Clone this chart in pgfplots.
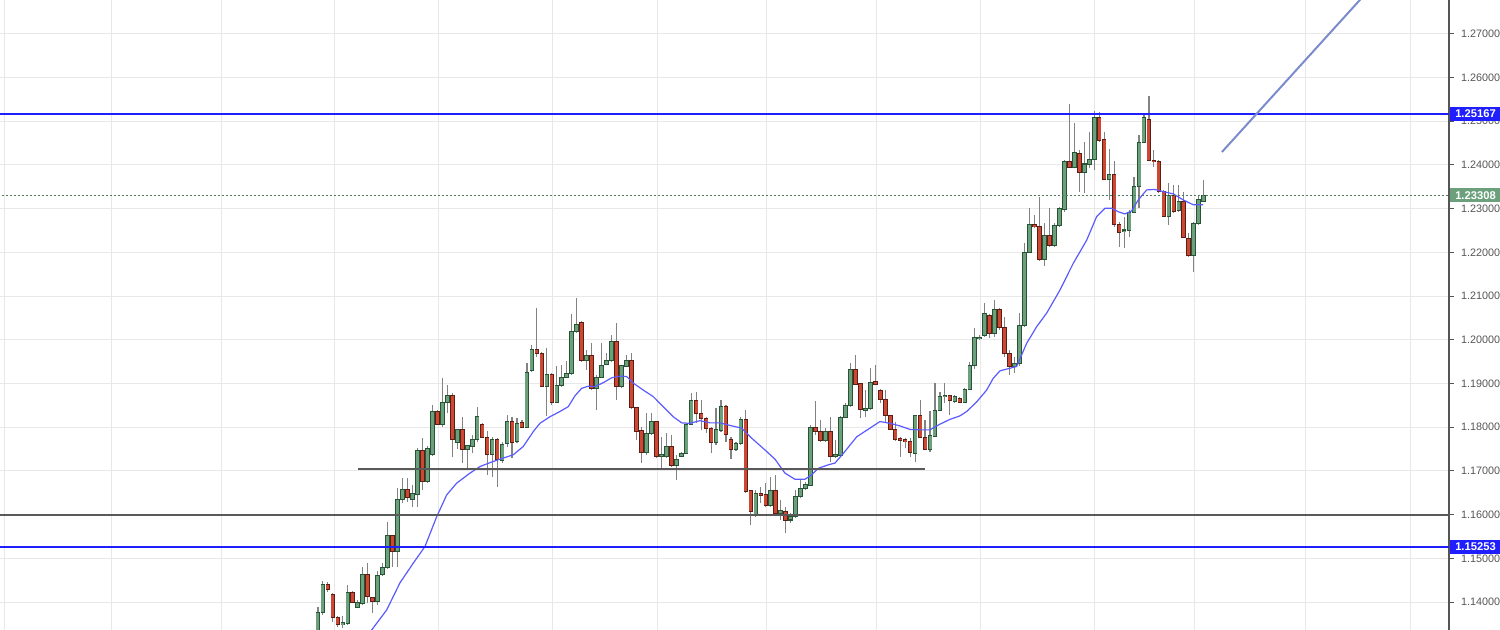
\documentclass[border=0pt]{standalone}
\usepackage{fontspec}
\setmainfont{Liberation Sans}
\usepackage{pgfplots}
\pgfplotsset{compat=1.18}
\usepackage{pgfplotstable}
\definecolor{upfill}{RGB}{108,160,124}
\definecolor{upedge}{RGB}{38,84,52}
\definecolor{dnfill}{RGB}{204,72,50}
\definecolor{dnedge}{RGB}{92,30,20}
\definecolor{wick}{RGB}{130,130,130}
\definecolor{lvlblue}{RGB}{30,30,255}
\definecolor{trend}{RGB}{122,140,204}
\definecolor{maline}{RGB}{90,90,255}
\definecolor{lastgreen}{RGB}{108,160,124}
\definecolor{lbl}{RGB}{85,85,85}

\pgfplotstableread{
i o h l c
0 1.1302 1.1389 1.1290 1.1375
1 1.1376 1.1448 1.1370 1.1441
5 1.1348 1.1367 1.1340 1.1353
6 1.1351 1.1439 1.1348 1.1421
8 1.1389 1.1405 1.1386 1.1399
9 1.1397 1.1481 1.1393 1.1463
12 1.1401 1.1470 1.1393 1.1461
13 1.1463 1.1490 1.1460 1.1480
14 1.1480 1.1584 1.1476 1.1552
16 1.1517 1.1660 1.1481 1.1634
17 1.1634 1.1683 1.1626 1.1658
19 1.1635 1.1668 1.1618 1.1647
20 1.1647 1.1752 1.1618 1.1746
22 1.1677 1.1757 1.1673 1.1752
23 1.1737 1.1851 1.1734 1.1836
25 1.1807 1.1912 1.1801 1.1856
26 1.1856 1.1897 1.1832 1.1872
28 1.1765 1.1795 1.1750 1.1794
30 1.1750 1.1759 1.1702 1.1757
31 1.1757 1.1782 1.1740 1.1772
32 1.1772 1.1846 1.1767 1.1824
35 1.1737 1.1777 1.1687 1.1772
37 1.1725 1.1767 1.1718 1.1761
38 1.1762 1.1828 1.1755 1.1813
40 1.1767 1.1820 1.1763 1.1809
42 1.1800 1.1946 1.1799 1.1925
43 1.1931 1.1988 1.1927 1.1978
46 1.1893 1.1981 1.1826 1.1921
48 1.1857 1.1939 1.1855 1.1895
49 1.1895 1.1942 1.1893 1.1913
50 1.1913 1.1952 1.1912 1.1923
51 1.1923 1.2059 1.1920 1.2019
52 1.2019 1.2095 1.2016 1.2036
54 1.1954 1.1977 1.1931 1.1965
56 1.1888 1.1920 1.1839 1.1913
57 1.1913 1.1992 1.1912 1.1942
58 1.1944 1.1970 1.1942 1.1952
59 1.1952 1.2011 1.1950 1.1996
61 1.1893 1.1942 1.1889 1.1940
62 1.1940 1.1965 1.1937 1.1952
66 1.1743 1.1833 1.1737 1.1786
67 1.1786 1.1833 1.1782 1.1813
69 1.1734 1.1778 1.1702 1.1737
70 1.1734 1.1787 1.1730 1.1756
72 1.1712 1.1737 1.1679 1.1727
73 1.1734 1.1744 1.1733 1.1740
74 1.1740 1.1809 1.1739 1.1807
75 1.1807 1.1878 1.1805 1.1860
80 1.1766 1.1843 1.1759 1.1794
81 1.1794 1.1862 1.1790 1.1847
84 1.1750 1.1767 1.1746 1.1763
85 1.1763 1.1824 1.1759 1.1818
88 1.1599 1.1656 1.1595 1.1649
91 1.1622 1.1687 1.1618 1.1656
93 1.1604 1.1634 1.1588 1.1609
95 1.1588 1.1603 1.1582 1.1595
96 1.1595 1.1656 1.1592 1.1641
97 1.1641 1.1679 1.1637 1.1660
98 1.1660 1.1675 1.1656 1.1668
99 1.1668 1.1805 1.1666 1.1799
102 1.1771 1.1798 1.1766 1.1790
104 1.1733 1.1771 1.1729 1.1738
105 1.1735 1.1826 1.1734 1.1823
106 1.1823 1.1856 1.1820 1.1849
107 1.1849 1.1946 1.1847 1.1931
110 1.1839 1.1885 1.1824 1.1843
111 1.1843 1.1935 1.1839 1.1902
120 1.1741 1.1826 1.1721 1.1826
123 1.1750 1.1836 1.1744 1.1780
124 1.1780 1.1901 1.1777 1.1839
125 1.1839 1.1881 1.1838 1.1870
126 1.1870 1.1901 1.1855 1.1872
128 1.1860 1.1874 1.1855 1.1869
130 1.1858 1.1889 1.1855 1.1887
131 1.1887 1.1950 1.1885 1.1942
132 1.1942 1.2026 1.1933 1.2006
133 1.2004 1.2010 1.1999 1.2006
134 1.2011 1.2084 1.2007 1.2059
136 1.2015 1.2090 1.2007 1.2068
140 1.1939 1.1961 1.1923 1.1946
141 1.1946 1.2061 1.1939 1.2032
142 1.2032 1.2221 1.2030 1.2200
143 1.2200 1.2301 1.2198 1.2264
146 1.2185 1.2267 1.2170 1.2238
148 1.2215 1.2268 1.2213 1.2261
149 1.2261 1.2305 1.2259 1.2301
150 1.2299 1.2411 1.2293 1.2408
152 1.2395 1.2495 1.2392 1.2429
154 1.2382 1.2453 1.2337 1.2402
155 1.2402 1.2476 1.2392 1.2413
156 1.2413 1.2524 1.2389 1.2508
159 1.2367 1.2436 1.2320 1.2377
162 1.2247 1.2282 1.2209 1.2251
163 1.2250 1.2297 1.2236 1.2292
164 1.2292 1.2372 1.2290 1.2350
165 1.2350 1.2469 1.2301 1.2452
166 1.2452 1.2514 1.2450 1.2508
171 1.2283 1.2358 1.2263 1.2329
173 1.2295 1.2354 1.2293 1.2316
176 1.2194 1.2270 1.2156 1.2267
177 1.2267 1.2328 1.2263 1.2320
178 1.2316 1.2366 1.2315 1.2331
}\upT

\pgfplotstableread{
i o h l c
2 1.1441 1.1446 1.1424 1.1428
3 1.1418 1.1421 1.1355 1.1365
4 1.1365 1.1367 1.1342 1.1348
7 1.1421 1.1426 1.1397 1.1399
10 1.1463 1.1490 1.1397 1.1412
11 1.1411 1.1412 1.1376 1.1401
15 1.1552 1.1553 1.1481 1.1517
18 1.1658 1.1683 1.1630 1.1639
21 1.1746 1.1775 1.1656 1.1677
24 1.1836 1.1839 1.1805 1.1807
27 1.1872 1.1878 1.1731 1.1772
29 1.1794 1.1824 1.1718 1.1750
33 1.1807 1.1809 1.1775 1.1777
34 1.1776 1.1792 1.1691 1.1737
36 1.1771 1.1775 1.1664 1.1727
39 1.1813 1.1824 1.1729 1.1766
41 1.1810 1.1817 1.1798 1.1800
44 1.1978 1.2072 1.1961 1.1968
45 1.1968 1.1971 1.1891 1.1893
47 1.1921 1.1923 1.1851 1.1857
53 1.2039 1.2042 1.1950 1.1954
55 1.1965 1.1992 1.1885 1.1888
60 1.1996 1.2038 1.1862 1.1893
63 1.1952 1.1969 1.1841 1.1846
64 1.1846 1.1847 1.1771 1.1791
65 1.1792 1.1801 1.1718 1.1743
68 1.1813 1.1814 1.1730 1.1734
71 1.1756 1.1782 1.1710 1.1712
76 1.1860 1.1881 1.1809 1.1832
77 1.1832 1.1862 1.1794 1.1820
78 1.1820 1.1824 1.1786 1.1798
79 1.1798 1.1801 1.1740 1.1766
82 1.1847 1.1851 1.1767 1.1784
83 1.1771 1.1778 1.1727 1.1750
86 1.1818 1.1839 1.1649 1.1654
87 1.1654 1.1656 1.1576 1.1607
89 1.1649 1.1663 1.1626 1.1645
90 1.1647 1.1672 1.1618 1.1622
92 1.1656 1.1691 1.1603 1.1604
94 1.1607 1.1618 1.1557 1.1588
100 1.1799 1.1861 1.1782 1.1790
101 1.1790 1.1817 1.1767 1.1769
103 1.1790 1.1824 1.1721 1.1733
108 1.1931 1.1965 1.1897 1.1899
109 1.1899 1.1901 1.1820 1.1841
112 1.1904 1.1942 1.1897 1.1898
113 1.1885 1.1887 1.1855 1.1864
114 1.1864 1.1885 1.1809 1.1826
115 1.1826 1.1828 1.1794 1.1796
116 1.1795 1.1813 1.1769 1.1773
117 1.1774 1.1778 1.1733 1.1771
118 1.1771 1.1775 1.1752 1.1767
119 1.1767 1.1775 1.1733 1.1742
121 1.1826 1.1862 1.1775 1.1777
122 1.1777 1.1817 1.1748 1.1750
127 1.1872 1.1874 1.1828 1.1862
129 1.1866 1.1870 1.1855 1.1858
135 1.2056 1.2059 1.2004 1.2015
137 1.2068 1.2072 1.2023 1.2029
138 1.2029 1.2053 1.1961 1.1968
139 1.1968 1.1977 1.1920 1.1939
144 1.2264 1.2286 1.2255 1.2259
145 1.2259 1.2326 1.2181 1.2185
147 1.2238 1.2301 1.2213 1.2215
151 1.2408 1.2540 1.2392 1.2395
153 1.2427 1.2434 1.2339 1.2382
157 1.2508 1.2522 1.2453 1.2457
158 1.2457 1.2476 1.2366 1.2367
160 1.2377 1.2408 1.2259 1.2264
161 1.2264 1.2270 1.2213 1.2247
167 1.2505 1.2558 1.2408 1.2411
168 1.2411 1.2434 1.2396 1.2408
169 1.2408 1.2411 1.2335 1.2339
170 1.2339 1.2343 1.2282 1.2283
172 1.2329 1.2354 1.2290 1.2293
174 1.2316 1.2339 1.2232 1.2235
175 1.2232 1.2244 1.2190 1.2194
}\dnT

\begin{document}
\begin{tikzpicture}
\begin{axis}[
  at={(0,0)}, anchor=south west,
  scale only axis, width=724.5pt, height=315pt,
  xmin=-63.9, xmax=227.3, ymin=1.13361, ymax=1.27775,
  axis y line*=right, axis x line*=bottom,
  x axis line style={draw=none},
  y axis line style={draw=lbl, line width=0.6pt},
  xtick={-62.9,-41.4,-19.3,3.4,24.3,47.2,68.3,90.2,112.3,133.2,156.1,176.2,198.4,219.5},
  xticklabels={}, xtick style={draw=none},
  ytick={1.14,1.15,1.16,1.17,1.18,1.19,1.20,1.21,1.22,1.23,1.24,1.25,1.26,1.27},
  yticklabel={\pgfmathprintnumber[fixed,fixed zerofill,precision=5,assume math mode=true]{\tick}},
  tick align=outside, major tick length=2.5pt,
  ytick style={draw=lbl, line width=0.5pt},
  grid=major, major grid style={draw=black!9, line width=0.5pt},
  yticklabel style={font=\fontsize{5.4}{6}\selectfont, text=lbl},
]
% wicks
\addplot[draw=none, mark=none, error bars/.cd, y dir=plus, y explicit, error mark=none,
  error bar style={draw=wick, line width=0.55pt}]
  table[x=i, y=l, y error expr={\thisrow{h}-\thisrow{l}}] {\upT};
\addplot[draw=none, mark=none, error bars/.cd, y dir=plus, y explicit, error mark=none,
  error bar style={draw=wick, line width=0.55pt}]
  table[x=i, y=l, y error expr={\thisrow{h}-\thisrow{l}}] {\dnT};
% bodies outline
\addplot[draw=none, mark=none, error bars/.cd, y dir=both, y explicit, error mark=none,
  error bar style={draw=upedge, line width=2.3pt}]
  table[x=i, y expr={(\thisrow{o}+\thisrow{c})/2}, y error expr={abs(\thisrow{c}-\thisrow{o})/2+0.00014}] {\upT};
\addplot[draw=none, mark=none, error bars/.cd, y dir=both, y explicit, error mark=none,
  error bar style={draw=dnedge, line width=2.3pt}]
  table[x=i, y expr={(\thisrow{o}+\thisrow{c})/2}, y error expr={abs(\thisrow{c}-\thisrow{o})/2+0.00014}] {\dnT};
% bodies fill
\addplot[draw=none, mark=none, error bars/.cd, y dir=both, y explicit, error mark=none,
  error bar style={draw=upfill, line width=1.5pt}]
  table[x=i, y expr={(\thisrow{o}+\thisrow{c})/2}, y error expr={max(abs(\thisrow{c}-\thisrow{o})/2-0.00009,0)}] {\upT};
\addplot[draw=none, mark=none, error bars/.cd, y dir=both, y explicit, error mark=none,
  error bar style={draw=dnfill, line width=1.5pt}]
  table[x=i, y expr={(\thisrow{o}+\thisrow{c})/2}, y error expr={max(abs(\thisrow{c}-\thisrow{o})/2-0.00009,0)}] {\dnT};
% moving average
\addplot[draw=maline, line width=0.6pt] coordinates {
(8.44,1.1290) (10.79,1.1336) (13.81,1.1382) (16.48,1.1444) (19.15,1.1489) (21.50,1.1527) (23.85,1.1595) (25.86,1.1645) (27.87,1.1672) (30.55,1.1695) (32.56,1.1710) (34.57,1.1719) (36.58,1.1727) (39.25,1.1737) (41.26,1.1756) (43.27,1.1790) (44.61,1.1809) (46.62,1.1824) (48.63,1.1836) (50.30,1.1847) (51.65,1.1872) (52.99,1.1889) (54.32,1.1894) (55.67,1.1893) (57.34,1.1902) (59.02,1.1913) (60.69,1.1917) (62.04,1.1916) (63.36,1.1901) (65.37,1.1885) (67.38,1.1870) (69.39,1.1847) (71.40,1.1824) (73.09,1.1810) (74.76,1.1809) (76.77,1.1815) (78.78,1.1810) (80.79,1.1810) (82.46,1.1805) (85.15,1.1798) (87.16,1.1775) (89.83,1.1748) (91.84,1.1727) (93.85,1.1695) (95.86,1.1681) (97.87,1.1681) (99.22,1.1691) (100.54,1.1706) (102.55,1.1714) (103.90,1.1718) (105.57,1.1740) (108.26,1.1778) (110.93,1.1798) (112.94,1.1813) (114.95,1.1809) (116.96,1.1803) (118.97,1.1795) (120.98,1.1794) (122.99,1.1794) (125.0,1.1807) (127.01,1.1818) (129.02,1.1826) (130.37,1.1836) (132.38,1.1858) (134.38,1.1885) (135.71,1.1912) (137.06,1.1929) (138.06,1.1932) (140.41,1.1939) (142.42,1.1992) (144.43,1.2030) (146.44,1.2061) (149.12,1.2114) (151.79,1.2175) (154.48,1.2228) (156.49,1.2282) (158.16,1.2301) (159.51,1.2301) (160.83,1.2293) (162.18,1.2288) (163.52,1.2295) (164.85,1.2320) (166.54,1.2343) (168.21,1.2344) (169.87,1.2339) (171.88,1.2334) (173.89,1.2320) (175.90,1.2309) (177.91,1.2309)};
% level lines
\addplot[draw=lvlblue, line width=0.7pt] coordinates {(-70,1.25167) (230,1.25167)};
\addplot[draw=lvlblue, line width=0.7pt] coordinates {(-70,1.15258) (230,1.15258)};
\addplot[draw=black!65, line width=0.9pt] coordinates {(-70,1.16) (230,1.16)};
\addplot[draw=black!65, line width=0.9pt] coordinates {(8.04,1.1704) (121.98,1.1704)};
\addplot[draw=lastgreen!75!black, line width=0.45pt, dash pattern=on 1pt off 1pt] coordinates {(-70,1.23308) (230,1.23308)};
\addplot[draw=trend, line width=1pt] coordinates {(181.67,1.24297) (215,1.2848)};
\coordinate (A) at (axis cs:227.3,1.25167);
\coordinate (B) at (axis cs:227.3,1.23308);
\coordinate (C) at (axis cs:227.3,1.15258);
\end{axis}
\node[fill=lvlblue, text=white, font=\bfseries\fontsize{5.6}{6}\selectfont, inner xsep=1pt, inner ysep=1.6pt, anchor=west, minimum width=25.5pt, minimum height=7pt] at ([xshift=0.3pt]A) {1.25167};
\node[fill=lastgreen, text=white, font=\bfseries\fontsize{5.6}{6}\selectfont, inner xsep=1pt, inner ysep=1.6pt, anchor=west, minimum width=25.5pt, minimum height=7pt] at ([xshift=0.3pt]B) {1.23308};
\node[fill=lvlblue, text=white, font=\bfseries\fontsize{5.6}{6}\selectfont, inner xsep=1pt, inner ysep=1.6pt, anchor=west, minimum width=25.5pt, minimum height=7pt] at ([xshift=0.3pt]C) {1.15253};
\pgfresetboundingbox
\path[use as bounding box] (0,0) rectangle (750pt,315pt);
\end{tikzpicture}
\end{document}
